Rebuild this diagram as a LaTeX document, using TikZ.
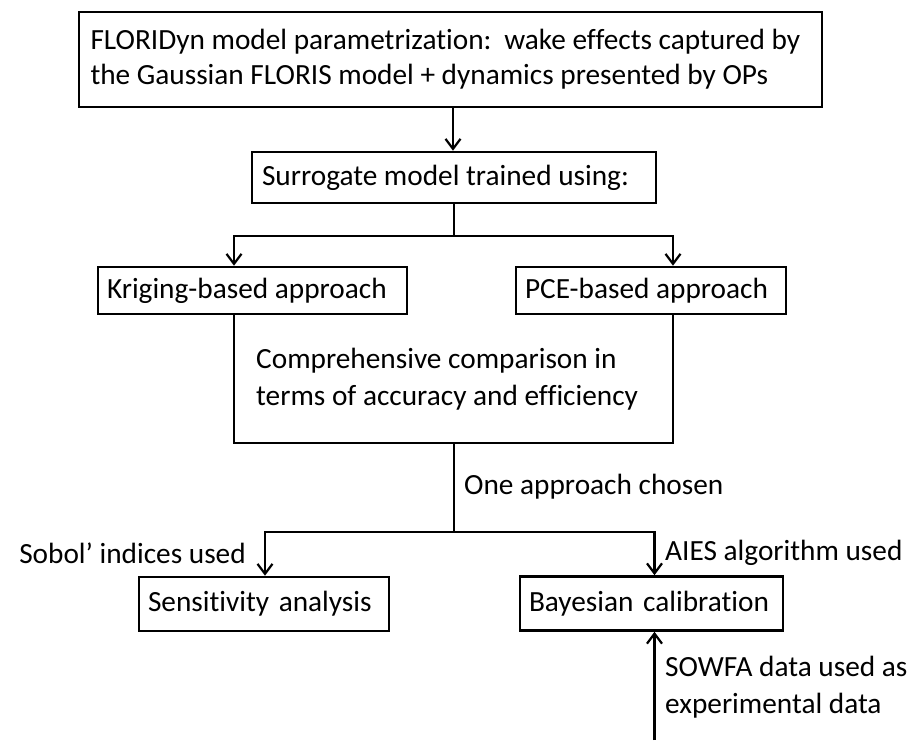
\documentclass[tikz,border=0pt]{standalone}
\usepackage{fontspec}
\setmainfont{Carlito}[Ligatures=NoCommon]
\usetikzlibrary{arrows.meta}

% a line of fixed width, text flush left, never broken
\newcommand{\fixline}[2]{\makebox[#1][l]{#2}}

\begin{document}
\begin{tikzpicture}[x=1pt,y=-1pt,
  every node/.style={font=\fontsize{29.3}{37}\selectfont, inner sep=0pt},
  box/.style={draw, line width=2.6pt, inner xsep=9pt, align=left, anchor=center},
  lbl/.style={align=left},
  conn/.style={line width=2.2pt},
  arr/.style={conn, -{Straight Barb[length=10pt,width=15pt,line width=2.2pt]}}]

\useasboundingbox (0,0) rectangle (920,740);

% boxes
\node[box, minimum width=743pt, minimum height=95pt, inner xsep=11pt,
      font=\fontsize{29.3}{35}\selectfont] (top) at (450.5,59.5)
  {\raisebox{-2pt}{\fixline{720pt}{FLORIDyn model parametrization:\hspace{4pt} wake effects captured by}}\\[0pt]
   \raisebox{-2pt}{\fixline{720pt}{the Gaussian FLORIS model + dynamics presented by OPs}}};
\node[box, minimum width=404pt, minimum height=51pt, inner xsep=10pt] (sur) at (454,177.5)
  {\fixline{384pt}{Surrogate model trained using:}};
\node[box, minimum width=309pt, minimum height=47pt] (krig) at (252.5,290.5)
  {\fixline{291pt}{Kriging-based approach}};
\node[box, minimum width=270pt, minimum height=47pt] (pce) at (651,290.5)
  {\fixline{252pt}{PCE-based approach}};
\node[box, minimum width=250pt, minimum height=54pt] (sens) at (264,604)
  {\fixline{232pt}{Sensitivity\hspace{3pt} analysis}};
\node[box, minimum width=263pt, minimum height=54pt] (bay) at (651.5,603.5)
  {\fixline{245pt}{Bayesian\hspace{3pt} calibration}};

% comparison text inside the open frame
\node[lbl, anchor=west] (cmp) at (256,379)
  {Comprehensive comparison in\\terms of accuracy and efficiency};

% labels on the connectors
\node[lbl, anchor=west] (chosen) at (464,487) {One approach chosen};
\node[lbl, anchor=east] (sobol) at (246,553) {Sobol’ indices used};
\node[lbl, anchor=west] (aies) at (665,553) {AIES algorithm used};
\node[lbl, anchor=west] (sowfa) at (665,687) {SOWFA data used as\\experimental data};

% reference columns for the branch lines
\coordinate (kx) at (234,0);
\coordinate (px) at (673,0);
\coordinate (sx) at (265,0);
\coordinate (bx) at (654.5,0);
\coordinate (tx) at (453,0);
\coordinate (j1) at (454,236);
\coordinate (cbl) at (234,443);
\coordinate (cbr) at (673,443);
\coordinate (cbm) at (454,443);
\coordinate (j2) at (454,532);
\coordinate (src) at (654.5,740);

% connectors
\draw[arr] (top.south -| tx) -- (sur.north -| tx);
\draw[conn] (sur.south) -- (j1);
\draw[arr] (j1) -| (krig.north -| kx);
\draw[arr] (j1) -| (pce.north -| px);

% open frame round the comparison text
\draw[line width=2.6pt] (krig.south -| kx) -- (cbl) -- (cbr) -- (pce.south -| px);

\draw[conn] (cbm) -- (j2);
\draw[arr] (j2) -| (sens.north -| sx);
\draw[arr] (j2) -| (bay.north -| bx);
\draw[arr] (src) -- (bay.south -| bx);

\end{tikzpicture}
\end{document}
